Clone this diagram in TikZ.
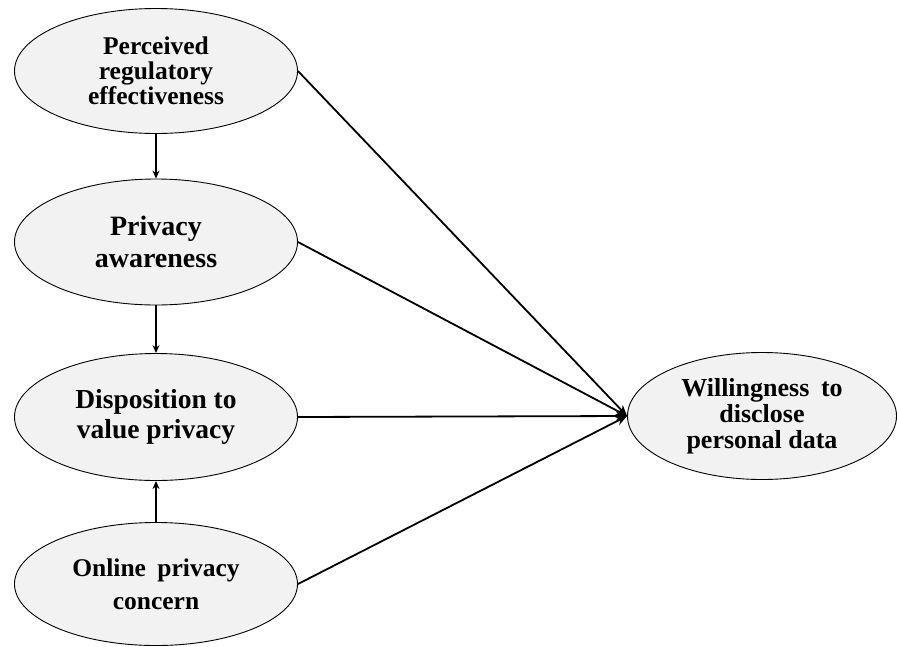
\documentclass[tikz,border=0pt]{standalone}
\usepackage{fontspec}
\setmainfont{Liberation Serif}
\usetikzlibrary{shapes.geometric,arrows.meta}
\begin{document}
\begin{tikzpicture}[x=1pt,y=-1pt,
  construct/.style={ellipse,draw=black,line width=0.9pt,fill=black!5,
    inner sep=0pt,align=center,font=\bfseries},
  link/.style={line width=1.8pt,-{Stealth[length=11pt,width=9pt]}},
  feed/.style={line width=1.3pt,-{Stealth[length=8pt,width=7pt]}}]
\useasboundingbox (0,0) rectangle (897,646);

\node[construct,minimum width=283pt,minimum height=125pt,
  font=\bfseries\fontsize{25.5}{25}\selectfont] (pre) at (156,71)
  {Perceived\\regulatory\\effectiveness};
\node[construct,minimum width=283pt,minimum height=126pt,
  font=\bfseries\fontsize{28}{32}\selectfont] (aw) at (156,242)
  {Privacy\\awareness};
\node[construct,minimum width=283pt,minimum height=127pt,
  font=\bfseries\fontsize{27.5}{30}\selectfont] (dis) at (156,417)
  {Disposition to\\value privacy};
\node[construct,minimum width=283pt,minimum height=123pt,
  font=\bfseries\fontsize{25.5}{33}\selectfont] (onl) at (156,584)
  {Online\hspace{0.45em}privacy\\concern};
\node[construct,minimum width=269pt,minimum height=127pt,
  font=\bfseries\fontsize{26}{26}\selectfont] (wil) at (762,416)
  {Willingness\hspace{0.45em}to\\disclose\\personal data};

\draw[feed] (pre) -- (aw);
\draw[feed] (aw) -- (dis);
\draw[feed] (onl) -- (dis);

\draw[link] (pre.east) -- (wil.west);
\draw[link] (aw.east) -- (wil.west);
\draw[link] (dis.east) -- (wil.west);
\draw[link] (onl.east) -- (wil.west);
\end{tikzpicture}
\end{document}
